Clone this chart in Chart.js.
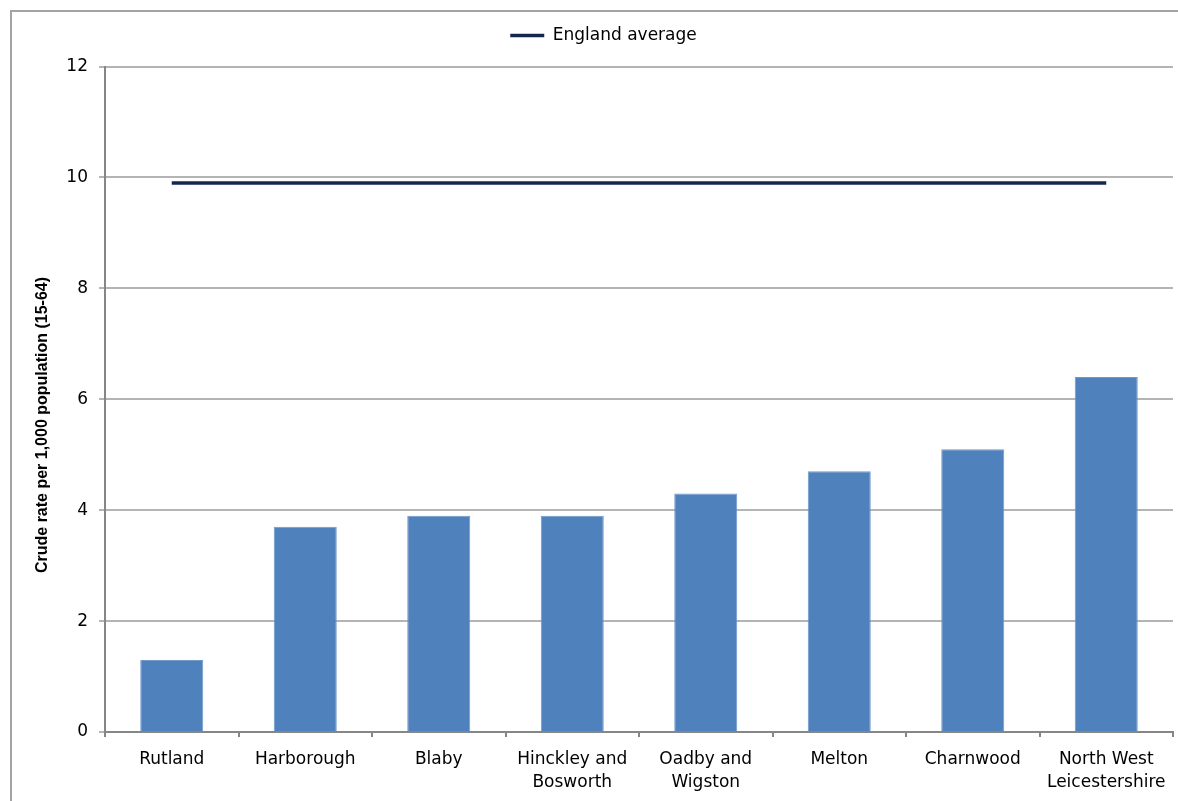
<!DOCTYPE html>
<html>
<head>
<meta charset="utf-8">
<title>Crude rate per 1,000 population</title>
<script src="https://cdn.jsdelivr.net/npm/chart.js@4.4.1/dist/chart.umd.min.js"></script>
<style>
  html, body { margin: 0; padding: 0; background: #fff; overflow: hidden; }
  #wrap { position: relative; width: 1178px; height: 801px; overflow: hidden; }
  #frame {
    position: absolute; left: 10px; top: 10px; width: 1400px; height: 1000px;
    border-left: 2px solid #a4a4a4; border-top: 2px solid #a4a4a4;
    pointer-events: none;
  }
  canvas { position: absolute; left: 0; top: 0; }
</style>
</head>
<body>
<div id="wrap">
  <div id="frame"></div>
  <canvas id="rate-chart" width="1178" height="801"></canvas>
</div>
<script>
// Districts, rates and the national reference value
const districts = [
  'Rutland', 'Harborough', 'Blaby', ['Hinckley and', 'Bosworth'],
  ['Oadby and', 'Wigston'], 'Melton', 'Charnwood', ['North West', 'Leicestershire']
];
const crudeRates = [1.3, 3.7, 3.9, 3.9, 4.3, 4.7, 5.1, 6.4];
const englandAverage = [9.9, 9.9, 9.9, 9.9, 9.9, 9.9, 9.9, 9.9];
const yTicks = [0, 2, 4, 6, 8, 10, 12];
const yTitle = 'Crude rate per 1,000 population (15-64)';

Chart.defaults.font.family = "'DejaVu Sans', sans-serif";
Chart.defaults.font.size = 17;
Chart.defaults.color = '#000';

// gap under the legend, and nudge it a little right of centre
const legendTweaks = {
  id: 'legendTweaks',
  beforeInit(chart) {
    const fit = chart.legend.fit;
    chart.legend.fit = function () {
      fit.call(this);
      this.height += 12.5;
    };
  },
  afterLayout(chart) {
    chart.legend.left += 12;
    chart.legend.right += 12;
  }
};

// rotated axis title, sitting a bit below the middle of the plot
const axisTitle = {
  id: 'axisTitle',
  afterDraw(chart) {
    const ctx = chart.ctx;
    ctx.save();
    ctx.translate(43, 425);
    ctx.rotate(-Math.PI / 2);
    ctx.font = "bold 16px 'Liberation Sans', Arial, sans-serif";
    ctx.fillStyle = '#000';
    ctx.textAlign = 'center';
    ctx.textBaseline = 'middle';
    ctx.fillText(yTitle, 0, 0);
    ctx.restore();
  }
};

new Chart(document.getElementById('rate-chart'), {
  data: {
    labels: districts,
    datasets: [
      {
        type: 'bar',
        label: 'Crude rate',
        data: crudeRates,
        backgroundColor: '#4f81bd',
        borderColor: '#6f98cb',
        borderWidth: 1,
        barPercentage: 0.472,
        categoryPercentage: 1,
        order: 2
      },
      {
        type: 'line',
        label: 'England average',
        data: englandAverage,
        borderColor: '#14284b',
        backgroundColor: '#14284b',
        borderWidth: 3.5,
        pointRadius: 0,
        fill: false,
        order: 1
      }
    ]
  },
  options: {
    responsive: false,
    animation: false,
    layout: { padding: { left: 10, right: 5, top: 17, bottom: 0 } },
    plugins: {
      tooltip: { enabled: false },
      legend: {
        position: 'top',
        labels: {
          filter: (item) => item.datasetIndex === 1,
          usePointStyle: true,
          pointStyle: 'line',
          pointStyleWidth: 34,
          padding: 10,
          font: { size: 17 }
        }
      }
    },
    scales: {
      x: {
        afterFit: (scale) => { scale.height = 69; },
        grid: { display: true, drawOnChartArea: false, drawTicks: true, tickLength: 5, color: '#868686', lineWidth: 2 },
        border: { display: true, color: '#868686', width: 2 },
        ticks: { padding: 12, maxRotation: 0, autoSkip: false, font: { size: 17, lineHeight: 1.3 } }
      },
      y: {
        min: 0,
        max: 12,
        afterFit: (scale) => { scale.width = 95; },
        afterBuildTicks: (scale) => { scale.ticks = yTicks.map((v) => ({ value: v })); },
        grid: { color: '#b4b4b4', lineWidth: 2, tickLength: 6, tickColor: '#b4b4b4' },
        border: { display: true, color: '#868686', width: 2 },
        ticks: { padding: 11, font: { size: 17 } }
      }
    }
  },
  plugins: [legendTweaks, axisTitle]
});
</script>
</body>
</html>
